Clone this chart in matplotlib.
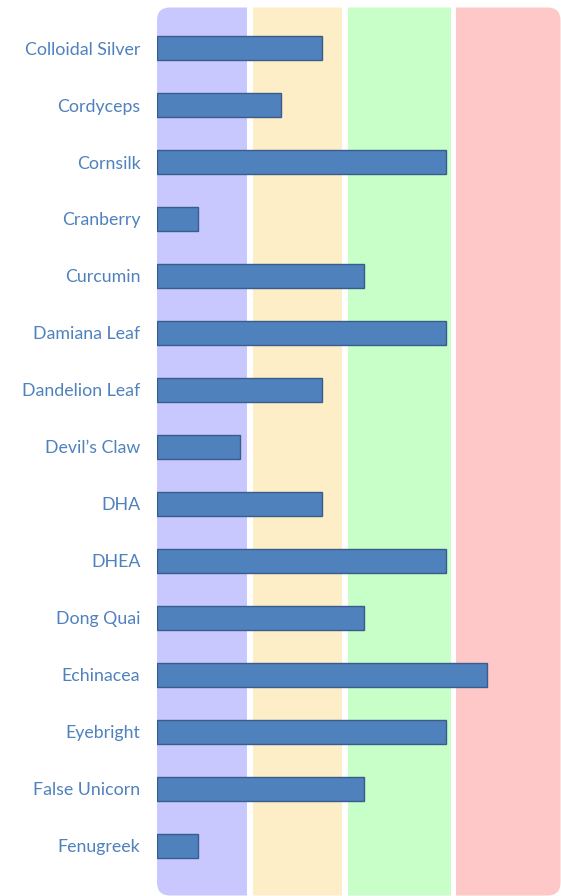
import matplotlib
matplotlib.use('Agg')
import matplotlib.pyplot as plt
from matplotlib.patches import FancyBboxPatch

# data
herbs = ['Colloidal Silver', 'Cordyceps', 'Cornsilk', 'Cranberry', 'Curcumin',
         'Damiana Leaf', 'Dandelion Leaf', 'Devil\u2019s Claw', 'DHA', 'DHEA',
         'Dong Quai', 'Echinacea', 'Eyebright', 'False Unicorn', 'Fenugreek']
scores = [4, 3, 7, 1, 5, 7, 4, 2, 4, 7, 5, 8, 7, 5, 1]

band_starts = [0, 2.32, 4.62, 7.24]
band_ends = [2.19, 4.48, 7.12, 9.78]
band_colors = ['#c8c8ff', '#feeec8', '#c8fec8', '#fec8c8']

plt.rcParams['font.family'] = ['Lato', 'DejaVu Sans']

fig = plt.figure(figsize=(5.61, 8.96), dpi=100)
ax = fig.add_axes([157/561, 0, 404/561, 889/896])

# rounded clip area for the coloured bands
clip = FancyBboxPatch((1.57, 0.005), 4.04 - 0.005, 8.88,
                      boxstyle='round,pad=0,rounding_size=0.13',
                      transform=fig.dpi_scale_trans, facecolor='none', edgecolor='none')
fig.patches.append(clip)

for s, e, c in zip(band_starts, band_ends, band_colors):
    sp = ax.axvspan(s, e, color=c, lw=0, zorder=0)
    sp.set_clip_path(clip)

ax.barh(range(len(herbs)), scores, height=0.42, color='#4f81bd',
        edgecolor='#385d8a', linewidth=1.0, zorder=3)

ax.set_xlim(0, 9.78)
ax.set_ylim(14.88, -0.72)
ax.set_yticks(range(len(herbs)))
ax.set_yticklabels(herbs, color='#4f81bd', fontsize=12.8)
ax.tick_params(axis='y', length=0, pad=12)
ax.set_xticks([])
for sp in ax.spines.values():
    sp.set_visible(False)
ax.patch.set_alpha(0)

fig.savefig('out.png', dpi=100)
